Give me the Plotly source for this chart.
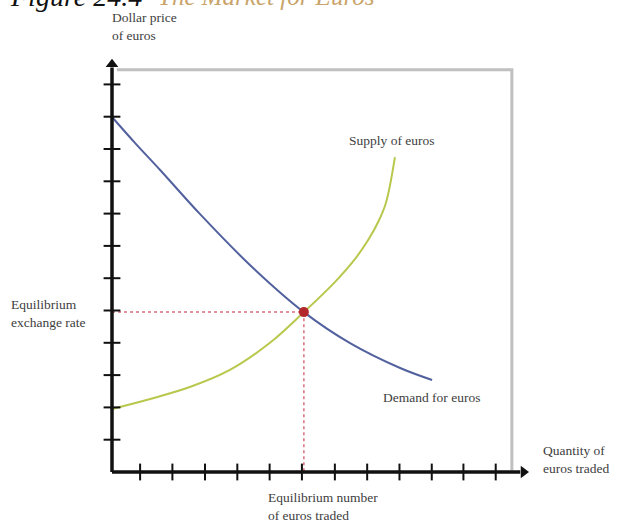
import plotly.graph_objects as go

# ---------------- data (abstract units: quantity / dollar price) ----------------
demand_q = [0, 0.71, 1.49, 2.72, 4.27, 5.94, 7.37, 8.92, 9.91]
demand_p = [10.99, 10.19, 9.35, 7.99, 6.41, 4.95, 3.99, 3.22, 2.85]
supply_q = [0, 1.18, 2.41, 3.65, 4.89, 5.94, 6.90, 7.52, 7.93, 8.24, 8.48, 8.76]
supply_p = [1.95, 2.26, 2.63, 3.16, 4.00, 4.95, 5.88, 6.59, 7.18, 7.74, 8.33, 9.75]
eq_q = [5.94]
eq_p = [4.95]
x_ticks = [0.87, 1.87, 2.88, 3.88, 4.88, 5.88, 6.9, 7.9, 8.9, 9.9, 10.88, 11.88]
y_ticks = [1, 2, 3, 4, 5, 6, 7, 8, 9, 10, 11, 12]
axis_end_q = 12.94
axis_end_p = 12.82
frame_q = 12.38
frame_p = 12.45

# ---------------- layout helpers ----------------
W, H = 621, 523
PX0, PY0, U = 112, 472, 32.3


def X(px):
    return (px - PX0) / U


def Y(py):
    return (PY0 - py) / U


FONT = dict(family="Liberation Serif", size=13.5, color="#404040")
AX = "#111111"

fig = go.Figure()

# frame (gray)
fig.add_trace(go.Scatter(x=[0.15, frame_q, frame_q], y=[frame_p, frame_p, 0.05],
                         mode="lines", line=dict(color="#c0c0c0", width=3),
                         hoverinfo="skip"))

# dashed guide lines
fig.add_trace(go.Scatter(x=[0, eq_q[0], eq_q[0]], y=[eq_p[0], eq_p[0], 0],
                         mode="lines", line=dict(color="#d8707e", width=1.5, dash="3px,3px"),
                         hoverinfo="skip"))

# demand and supply curves
fig.add_trace(go.Scatter(x=demand_q, y=demand_p, mode="lines",
                         line=dict(color="#52619e", width=2, shape="spline", smoothing=1.0),
                         name="Demand for euros"))
fig.add_trace(go.Scatter(x=supply_q, y=supply_p, mode="lines",
                         line=dict(color="#b9c84c", width=2, shape="spline", smoothing=1.0),
                         name="Supply of euros"))

# equilibrium point
fig.add_trace(go.Scatter(x=eq_q, y=eq_p, mode="markers",
                         marker=dict(color="#b3282c", size=10, line=dict(width=0))))

# axis lines
fig.add_trace(go.Scatter(x=[0, 0], y=[0, axis_end_p - 0.3], mode="lines",
                         line=dict(color=AX, width=3.5), hoverinfo="skip"))
fig.add_trace(go.Scatter(x=[0, axis_end_q - 0.3], y=[0, 0], mode="lines",
                         line=dict(color=AX, width=3.5), hoverinfo="skip"))
# arrowheads
fig.add_trace(go.Scatter(x=[0], y=[axis_end_p - 0.2], mode="markers",
                         marker=dict(symbol="triangle-up", size=11, color=AX)))
fig.add_trace(go.Scatter(x=[axis_end_q - 0.2], y=[0], mode="markers",
                         marker=dict(symbol="triangle-right", size=11, color=AX)))

# ticks
fig.add_trace(go.Scatter(x=[0] * len(y_ticks), y=y_ticks, mode="markers",
                         marker=dict(symbol="line-ew", size=12,
                                     line=dict(color=AX, width=2))))
fig.add_trace(go.Scatter(x=x_ticks, y=[0] * len(x_ticks), mode="markers",
                         marker=dict(symbol="line-ns", size=12,
                                     line=dict(color=AX, width=2))))

# ---------------- text ----------------
ann = []


def txt(text, px, py, xa="left", ya="middle", font=FONT):
    ann.append(dict(text=text, x=X(px), y=Y(py), xref="x", yref="y",
                    xanchor=xa, yanchor=ya, showarrow=False, align="left",
                    font=font))


txt("Dollar price<br>of euros", 110, 26)
txt("Supply of euros", 347, 140)
txt("Demand for euros", 381, 397)
txt("Equilibrium<br>exchange rate", 9, 313)
txt("Quantity of<br>euros traded", 541, 459)
txt("Equilibrium number<br>of euros traded", 266, 506)

# title (partly cut off at top, as in the source)
ann.append(dict(text="<i>Figure 24.4</i>", x=8 / W, y=1 - (-4) / H, xref="paper", yref="paper",
                xanchor="left", yanchor="middle", showarrow=False,
                font=dict(family="Liberation Serif", size=28, color="#111111")))
ann.append(dict(text="<i>The Market for Euros</i>", x=156 / W, y=1 - (-4) / H, xref="paper",
                yref="paper", xanchor="left", yanchor="middle", showarrow=False,
                font=dict(family="Liberation Serif", size=25, color="#c9a46a")))

fig.update_layout(
    width=W, height=H,
    margin=dict(l=0, r=0, t=0, b=0),
    paper_bgcolor="white", plot_bgcolor="white",
    showlegend=False,
    annotations=ann,
    xaxis=dict(range=[X(0), X(W)], visible=False, fixedrange=True),
    yaxis=dict(range=[Y(H), Y(0)], visible=False, fixedrange=True),
)

fig.write_html("out.html", config={"displayModeBar": False},
               post_script="document.body.style.margin='0';")
